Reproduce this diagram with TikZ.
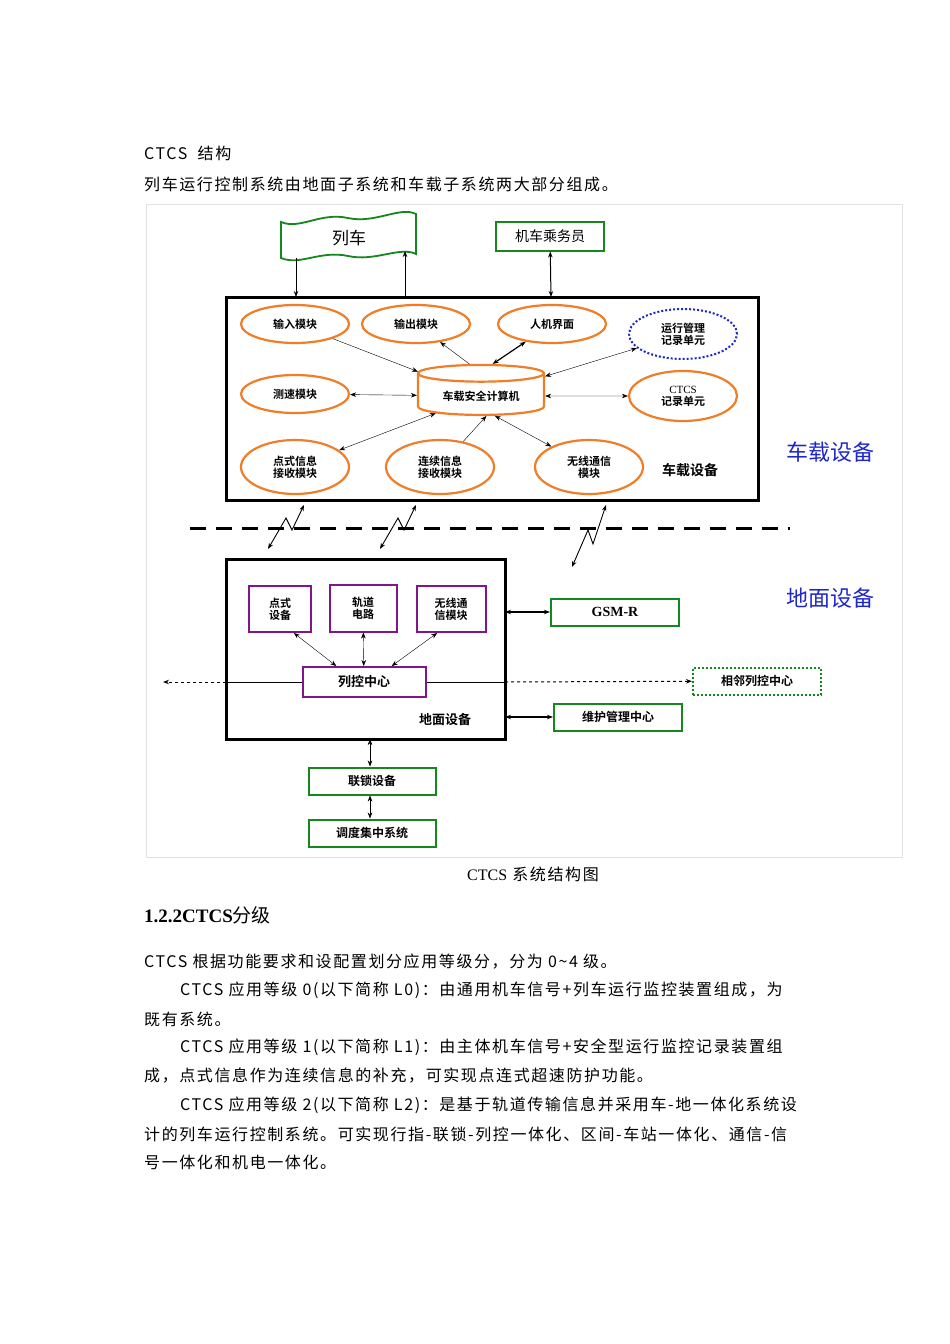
\documentclass[tikz,border=0pt]{standalone}
\usepackage{fontspec}
\usetikzlibrary{shapes.geometric,arrows.meta}
\setmainfont{Noto Sans CJK SC}
\newfontfamily\cjkb{Noto Sans CJK SC Bold}
\newfontfamily\cjksp[LetterSpace=10]{Noto Sans CJK SC}
\newfontfamily\tms{Liberation Serif}
\definecolor{org}{RGB}{240,125,40}
\definecolor{grn}{RGB}{20,135,30}
\definecolor{pur}{RGB}{130,20,140}
\definecolor{blu}{RGB}{30,40,200}
\begin{document}
\begin{tikzpicture}[x=1pt,y=-1pt,
  ell/.style={ellipse,draw=org,line width=2.2pt,minimum width=108pt,minimum height=38pt,inner sep=0pt,align=center,font=\cjkb\fontsize{11}{12}\selectfont},
  gbox/.style={draw=grn,line width=2pt,minimum height=27pt,font=\cjkb\fontsize{12}{13}\selectfont},
  pbox/.style={draw=pur,line width=2pt,align=center,font=\cjkb\fontsize{11}{12}\selectfont},
  arr/.style={-{Stealth[length=6pt]},thin},
  darr/.style={{Stealth[length=6pt]}-{Stealth[length=6pt]},thin},
  body/.style={anchor=west,font=\cjksp\fontsize{16}{16}\selectfont,inner sep=0pt}]
\useasboundingbox[fill=white] (0,0) rectangle (950,1344);
\node[body] (t1) at (144,153) {CTCS\ \ 结构};
\node[body] (t2) at (144,184) {列车运行控制系统由地面子系统和车载子系统两大部分组成。};
\draw[black!12] (146,204) rectangle (902,857);
% train banner
\draw[grn,line width=1.8pt] (281,222) .. controls (300,230) and (320,212) .. (348,218) .. controls (375,224) and (400,206) .. (416,214) -- (416,254) .. controls (400,246) and (375,262) .. (348,256) .. controls (320,250) and (300,266) .. (281,258) -- cycle;
\node[font=\fontsize{17}{18}\selectfont] (train) at (349,238) {列车};
\node[gbox,minimum width=108pt,minimum height=29pt,font=\fontsize{14}{15}\selectfont] (crew) at (550,236) {机车乘务员};
% onboard box
\draw[line width=3pt] (226,297) rectangle (758,500);
\coordinate (obt1) at (296,297);\coordinate (obt2) at (405,297);\coordinate (obt3) at (551,297);
\coordinate (tr1) at (296,258);\coordinate (tr2) at (405,251);
\draw[arr,line width=1pt] (tr1) -- (obt1);
\draw[arr,line width=1pt] (obt2) -- (tr2);
\draw[darr,line width=1pt] (crew) -- (obt3);
\node[ell] (in) at (295,324) {输入模块};
\node[ell] (out) at (416,324) {输出模块};
\node[ell] (hmi) at (552,324) {人机界面};
\node[ellipse,draw=blu,line width=2pt,dotted,minimum width=108pt,minimum height=50pt,inner sep=0pt,align=center,font=\cjkb\fontsize{11}{12}\selectfont] (rec) at (683,334) {运行管理\\记录单元};
\node[ell] (spd) at (295,394) {测速模块};
\node[ell,minimum height=50pt] (ctcs) at (683,396) {{\tms CTCS}\\记录单元};
\node[ell,minimum height=54pt] (bal) at (295,467) {点式信息\\接收模块};
\node[ell,minimum height=54pt] (cont) at (440,467) {连续信息\\接收模块};
\node[ell,minimum height=54pt] (rad) at (589,467) {无线通信\\模块};
\node[font=\cjkb\fontsize{14}{15}\selectfont] (oblab) at (690,470) {车载设备};
\node[cylinder,shape border rotate=90,aspect=0.2,draw=org,line width=2.2pt,minimum width=126pt,minimum height=50pt,font=\cjkb\fontsize{11}{12}\selectfont] (cpu) at (481,396) {车载安全计算机};
\draw[arr] (in) -- (cpu);
\draw[arr] (cpu.110) -- (out);
\draw[darr,line width=1.2pt] (cpu.70) -- (hmi);
\draw[darr] (cpu) -- (rec);
\draw[darr] (spd) -- (cpu);
\draw[darr] (cpu) -- (ctcs);
\draw[darr] (bal) -- (cpu);
\draw[arr] (cont) -- (cpu.-75);
\draw[darr] (cpu.-55) -- (rad);
\node[blu,font=\fontsize{22}{24}\selectfont] (lab1) at (830,452) {车载设备};
\node[blu,font=\fontsize{22}{24}\selectfont] (lab2) at (830,598) {地面设备};
% air gap
\draw[line width=3pt,dash pattern=on 16pt off 10pt] (190,528) -- (790,528);
\draw[darr,line width=0.9pt] (268,549) -- (286,518) -- (292,530) -- (304,505);
\draw[darr,line width=0.9pt] (380,549) -- (398,518) -- (404,530) -- (416,505);
\draw[darr,line width=0.9pt] (572,567) -- (588,530) -- (593,544) -- (606,505);
% ground
\draw[line width=3pt] (226,559) rectangle (505,739);
\node[pbox,minimum width=62pt,minimum height=46pt] (bd) at (280,609) {点式\\设备};
\node[pbox,minimum width=67pt,minimum height=47pt] (tc) at (363,608) {轨道\\电路};
\node[pbox,minimum width=69pt,minimum height=46pt] (rm) at (451,609) {无线通\\信模块};
\node[pbox,minimum width=123pt,minimum height=30pt,font=\cjkb\fontsize{13}{14}\selectfont] (rbc) at (364,682) {列控中心};
\draw[darr] (bd.-60) -- (rbc.150);
\draw[darr] (tc) -- (rbc);
\draw[darr] (rm.-120) -- (rbc.30);
\coordinate (lw) at (226,682);\coordinate (le) at (163,682);\coordinate (rw) at (505,682);
\node[draw=grn,line width=2pt,dotted,minimum width=128pt,minimum height=27pt,font=\cjkb\fontsize{12}{13}\selectfont] (nrbc) at (757,681) {相邻列控中心};
\draw[line width=1pt] (rbc.west) -- (lw);
\draw[arr,dashed,line width=1pt] (lw) -- (le);
\draw[line width=1pt] (rbc.east) -- (rw);
\draw[arr,dashed,line width=1pt] (rw) -- (nrbc);
\node[gbox,minimum width=128pt,font=\tms\bfseries\fontsize{14}{15}\selectfont] (gsm) at (615,612) {GSM-R};
\node[gbox,minimum width=128pt] (mnt) at (618,717) {维护管理中心};
\coordinate (g1) at (505,612);\coordinate (g2) at (505,717);\coordinate (g3) at (370,739);
\draw[darr,line width=1.2pt] (g1) -- (gsm);
\draw[darr,line width=1.2pt] (g2) -- (mnt);
\node[font=\cjkb\fontsize{13}{14}\selectfont] (glab) at (445,720) {地面设备};
\node[gbox,minimum width=127pt] (il) at (372,781) {联锁设备};
\node[gbox,minimum width=127pt] (ctc) at (372,833) {调度集中系统};
\draw[darr] (g3) -- (il.north -| g3);
\draw[darr] (il.south -| g3) -- (ctc.north -| g3);
% text
\node[font=\cjksp\fontsize{16}{16}\selectfont] (cap) at (533,874) {{\tms CTCS} 系统结构图};
\node[anchor=west,inner sep=0pt,font=\fontsize{19}{20}\selectfont] (h) at (144,915) {{\tms\bfseries 1.2.2CTCS}分级};
\node[body] (p1) at (144,962) {CTCS 根据功能要求和设配置划分应用等级分，分为 0\textasciitilde4 级。};
\node[body] (p2) at (180,990) {CTCS 应用等级 0(以下简称 L0)：由通用机车信号+列车运行监控装置组成，为};
\node[body] (p3) at (144,1019) {既有系统。};
\node[body] (p4) at (180,1047) {CTCS 应用等级 1(以下简称 L1)：由主体机车信号+安全型运行监控记录装置组};
\node[body] (p5) at (144,1076) {成，点式信息作为连续信息的补充，可实现点连式超速防护功能。};
\node[body] (p6) at (180,1105) {CTCS 应用等级 2(以下简称 L2)：是基于轨道传输信息并采用车-地一体化系统设};
\node[body] (p7) at (144,1134) {计的列车运行控制系统。可实现行指-联锁-列控一体化、区间-车站一体化、通信-信};
\node[body] (p8) at (144,1162) {号一体化和机电一体化。};
\end{tikzpicture}
\end{document}
